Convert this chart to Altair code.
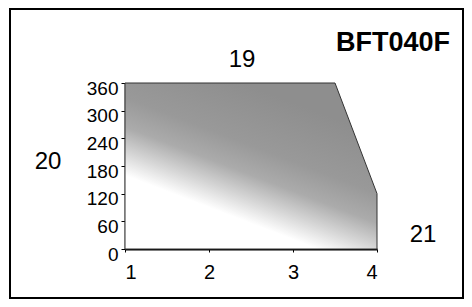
import altair as alt
import pandas as pd

# data
speed = [1, 3.5, 4]          # x values
limit = [360, 360, 120]      # upper boundary
x_ticks = [1, 2, 3, 4]
y_ticks = [0, 60, 120, 180, 240, 300, 360]
title_text = "BFT040F"
callouts = ["19", "20", "21"]

df = pd.DataFrame({"x": speed, "y": limit, "y0": [0] * len(speed)})

FONT = "Liberation Sans"
W, H = 252, 166

grad = alt.Gradient(
    gradient="linear",
    stops=[
        alt.GradientStop(color="#ffffff", offset=0),
        alt.GradientStop(color="#ffffff", offset=0.35),
        alt.GradientStop(color="#d6d6d6", offset=0.46),
        alt.GradientStop(color="#ababab", offset=0.58),
        alt.GradientStop(color="#999999", offset=0.72),
        alt.GradientStop(color="#8e8e8e", offset=1),
    ],
    x1=0, y1=1, x2=0.55, y2=0.05,
)

xs = alt.Scale(domain=[1, 4], nice=False, zero=False)
ys = alt.Scale(domain=[0, 360], nice=False)

area = alt.Chart(df).mark_area(
    color=grad, stroke="#333333", strokeWidth=1
).encode(
    x=alt.X("x:Q", scale=xs, axis=alt.Axis(
        values=x_ticks, title=None, grid=False, domainColor="black",
        domainWidth=2, tickSize=3, tickColor="black", labelFont=FONT,
        labelFontSize=20, labelColor="black", labelPadding=10, format="d")),
    y=alt.Y("y:Q", scale=ys, axis=alt.Axis(
        values=y_ticks, title=None, grid=False, domainColor="black",
        domainWidth=1.5, tickSize=4, tickColor="black", labelFont=FONT,
        labelFontSize=19, labelColor="black", labelPadding=3, labelOffset=5)),
    y2="y0:Q",
)

frame = alt.Chart(df).mark_rect(
    fill=None, stroke="black", strokeWidth=2, clip=False
).encode(
    x=alt.value(-115), x2=alt.value(W + 86),
    y=alt.value(-74), y2=alt.value(H + 49),
)

def label(txt, px, py, size, bold=False):
    return alt.Chart(pd.DataFrame({"t": [txt]})).mark_text(
        font=FONT, fontSize=size, fontWeight="bold" if bold else "normal",
        color="black", align="center", baseline="middle", clip=False
    ).encode(text="t:N", x=alt.value(px), y=alt.value(py))

t_title = label(title_text, 268, -40, 27, bold=True)
t19 = label(callouts[0], 117, -23, 24)
t20 = label(callouts[1], -77, 79, 24)
t21 = label(callouts[2], 298, 152, 24)

chart = alt.layer(frame, area, t_title, t19, t20, t21).properties(
    width=W, height=H,
    autosize=alt.AutoSizeParams(type="none"),
    padding={"left": 117, "top": 75, "right": 87, "bottom": 50},
).configure_view(stroke=None)

chart.save("out.html", embed_options={"renderer": "svg", "actions": False})
